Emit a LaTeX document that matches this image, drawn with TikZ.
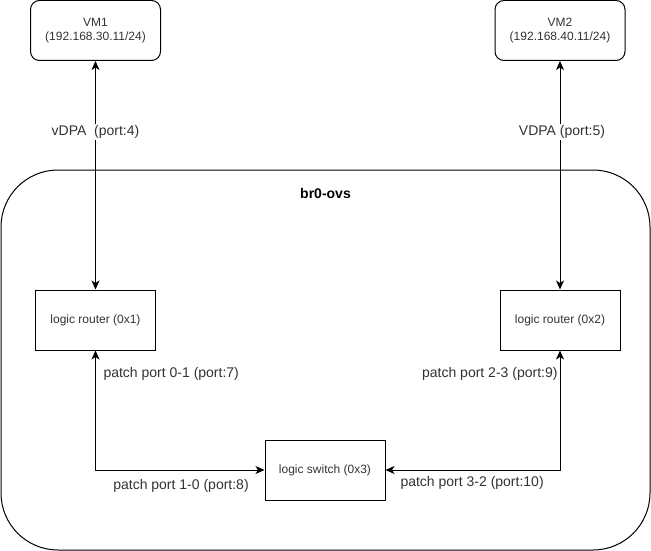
\documentclass[tikz,border=0pt]{standalone}
\usepackage{fontspec}
\setmainfont{Liberation Sans}
\usetikzlibrary{arrows.meta}
\begin{document}
\begin{tikzpicture}[x=1pt,y=-1pt,line width=1pt,
  tip/.style={{Stealth[length=9pt,width=8pt,inset=2.5pt]}-{Stealth[length=9pt,width=8pt,inset=2.5pt]}},
  vmbox/.style={draw, rounded corners=9pt, minimum width=130pt, minimum height=60pt,
    align=center, inner sep=0pt, text=black!80, font=\fontsize{12}{14}\selectfont},
  blockbox/.style={draw, minimum width=120pt, minimum height=60pt, inner sep=0pt,
    text=black!80, font=\fontsize{12}{14}\selectfont},
  portlabel/.style={fill=white, inner sep=1pt, text=black!80, font=\fontsize{14}{16}\selectfont}]
  \useasboundingbox (0,0) rectangle (651,551);

  % OVS bridge container
  \node[draw, rounded corners=57pt, minimum width=649pt, minimum height=380pt, inner sep=0pt]
    (ovs) at (325.5,360) {};
  \node[font=\fontsize{14}{16}\selectfont\bfseries] (ovstitle) at (325.5,193) {br0-ovs};

  % virtual machines
  \node[vmbox] (vm1) at (95.5,30.5) {VM1\\(192.168.30.11/24)};
  \node[vmbox] (vm2) at (560,30.5) {VM2\\(192.168.40.11/24)};

  % logical devices inside the bridge
  \node[blockbox] (r1) at (95.5,320) {logic router (0x1)};
  \node[blockbox] (r2) at (560,320) {logic router (0x2)};
  \node[blockbox] (sw) at (325,470) {logic switch (0x3)};

  % links
  \draw[tip] (vm1.south) -- (r1.north);
  \draw[tip] (vm2.south) -- (r2.north);
  \draw[tip] (r1.south) |- (sw.west);
  \draw[tip] (r2.south) |- (sw.east);

  % port labels
  \node[portlabel] (p4) at (95.5,132) {vDPA\ \ (port:4)};
  \node[portlabel] (p5) at (562,132) {VDPA (port:5)};
  \node[portlabel, anchor=west] (p7) at (102,374) {patch port 0-1 (port:7)};
  \node[portlabel, anchor=east] (p9) at (559,374) {patch port 2-3 (port:9)};
  \node[portlabel] (p8) at (181,486) {patch port 1-0 (port:8)};
  \node[portlabel, anchor=west] (p10) at (399,483) {patch port 3-2 (port:10)};
\end{tikzpicture}
\end{document}
